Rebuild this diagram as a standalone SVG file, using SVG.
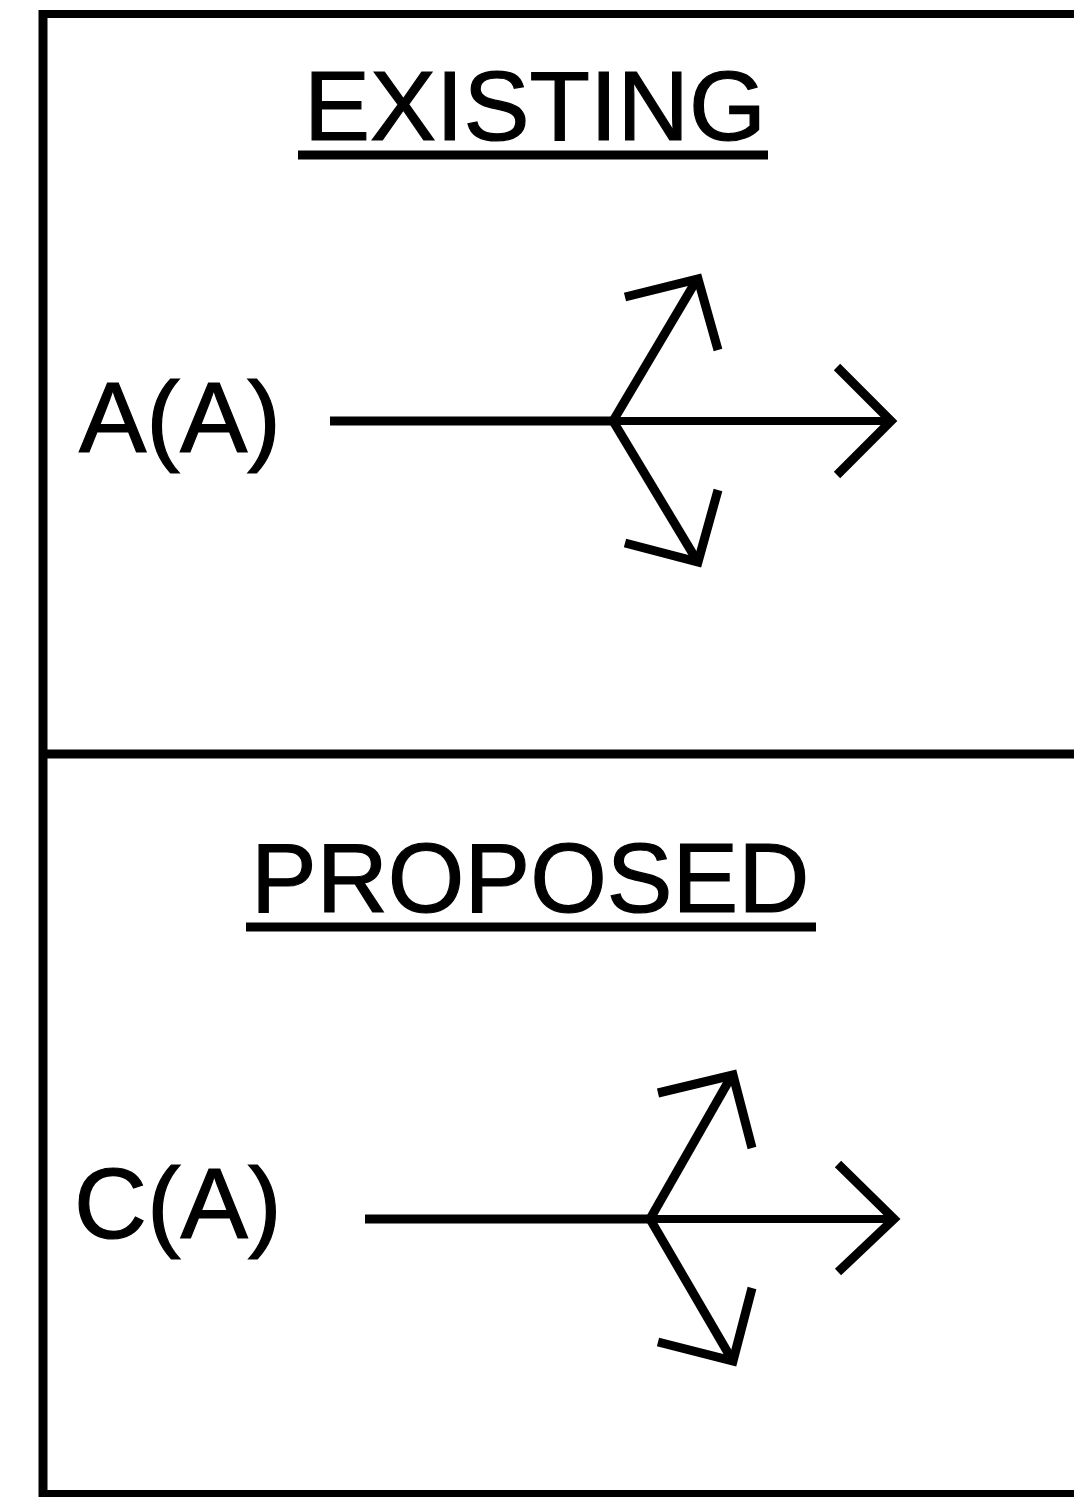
<svg xmlns="http://www.w3.org/2000/svg" width="1074" height="1497" viewBox="0 0 1074 1497">
<style>
.frame{stroke:#000;stroke-width:9;fill:none}
.ln{stroke:#000;stroke-width:9;fill:none;stroke-linecap:butt;stroke-linejoin:miter}
.shaft{stroke:#000;stroke-width:9;fill:none}
.t{font-family:"Liberation Sans",Arial,sans-serif;fill:#000;stroke:#000;stroke-width:1.2;stroke-linejoin:miter}
</style>
<rect width="1074" height="1497" fill="#fff"/>
<g id="frame">
<line class="frame" x1="43" y1="14" x2="1074" y2="14" style="stroke-width:8"/>
<line class="frame" x1="43" y1="10" x2="43" y2="1497"/>
<line class="frame" x1="43" y1="754" x2="1074" y2="754"/>
<line class="frame" x1="43" y1="1494" x2="1074" y2="1494" style="stroke-width:8"/>
</g>
<g id="existing-title">
<text class="t" x="304" y="140" font-size="99">EXISTING</text>
<line class="shaft" x1="298" y1="155" x2="768" y2="155"/>
</g>
<g id="existing-label"><text class="t" x="79" y="452" font-size="101">A(A)</text></g>
<g id="proposed-title">
<text class="t" x="251" y="912" font-size="98.5">PROPOSED</text>
<line class="shaft" x1="246" y1="927" x2="816" y2="927"/>
</g>
<g id="proposed-label"><text class="t" x="74" y="1238" font-size="101">C(A)</text></g>
<g id="connectors">
<g id="existing-arrows">
<line class="shaft" x1="330" y1="421" x2="613" y2="421"/>
<line class="ln" x1="613" y1="421" x2="887" y2="421" style="stroke-width:8"/>
<polyline class="ln" points="837,367 891,421 837,475"/>
<line class="ln" x1="613" y1="421" x2="696" y2="281"/>
<polyline class="ln" points="625,297 698,279 718,350"/>
<line class="ln" x1="613" y1="421" x2="696" y2="559"/>
<polyline class="ln" points="625,543 698,562 718,490"/>
</g>
<g id="proposed-arrows">
<line class="shaft" x1="365" y1="1219" x2="650" y2="1219"/>
<line class="ln" x1="650" y1="1219" x2="891" y2="1219" style="stroke-width:8"/>
<polyline class="ln" points="838,1164 894,1219 838,1272"/>
<line class="ln" x1="650" y1="1219" x2="731" y2="1077"/>
<polyline class="ln" points="658,1093 733,1075 752,1148"/>
<line class="ln" x1="650" y1="1219" x2="731" y2="1358"/>
<polyline class="ln" points="658,1342 733,1361 752,1288"/>
</g>
</g>
</svg>
